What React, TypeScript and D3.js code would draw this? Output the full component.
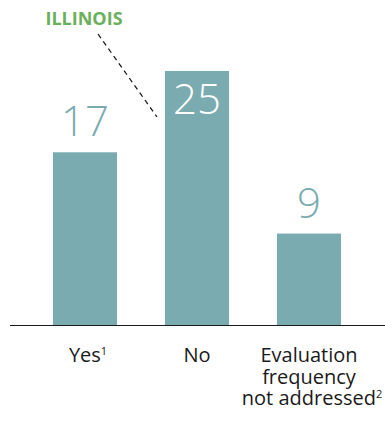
import React from "react";
import * as d3 from "d3";

const categories = ["Yes", "No", "Evaluation frequency not addressed"];
const values = [17, 25, 9];
const labelLines = [["Yes"], ["No"], ["Evaluation", "frequency", "not addressed"]];
const footnotes = ["1", "", "2"];
const annotation = "ILLINOIS";

const W = 385;
const H = 422;
const TEAL = "#7aabb0";

export default function App() {
  const baseline = 325;
  const x = d3.scaleBand().domain(categories).range([-3, 397]).paddingInner(48 / 112).paddingOuter(0.5);
  const y = d3.scaleLinear().domain([0, 25]).range([baseline, 71]);
  const font = "'Open Sans', 'Noto Sans', sans-serif";
  const maxIdx = values.indexOf(d3.max(values) as number);
  return (
    <svg width={W} height={H} style={{ position: "absolute", left: 0, top: 0 }}>
      {categories.map((c, i) => {
        const bx = x(c)!;
        const bw = x.bandwidth();
        const top = y(values[i]);
        const inside = i === maxIdx;
        return (
          <g key={c}>
            <rect x={bx} y={top} width={bw} height={baseline - top} fill={TEAL} />
            <text
              x={bx + bw / 2}
              y={inside ? top + 43 : top - 16}
              textAnchor="middle"
              fontFamily={font}
              fontWeight={300}
              fontSize={42}
              fill={inside ? "#ffffff" : TEAL}
            >
              {values[i]}
            </text>
            <text textAnchor="middle" fontFamily={font} fontSize={20} fill="#1a1a1a">
              {labelLines[i].map((ln, j) => (
                <tspan key={j} x={bx + bw / 2 + (j === labelLines[i].length - 1 && footnotes[i] ? 3 : 0)} y={362 + j * 21.5}>
                  {ln}
                  {j === labelLines[i].length - 1 && footnotes[i] ? (
                    <tspan fontSize={11} dy={-7}>{footnotes[i]}</tspan>
                  ) : null}
                </tspan>
              ))}
            </text>
          </g>
        );
      })}
      <line x1={10} x2={W} y1={baseline + 0.5} y2={baseline + 0.5} stroke="#1a1a1a" strokeWidth={1.2} />
      <text x={84} y={25} textAnchor="middle" fontFamily={font} fontWeight={700} fontSize={18} fill="#6ab05a">
        {annotation}
      </text>
      <line x1={98} y1={34} x2={157} y2={117} stroke="#111" strokeWidth={1.2} strokeDasharray="5,4" />
    </svg>
  );
}
